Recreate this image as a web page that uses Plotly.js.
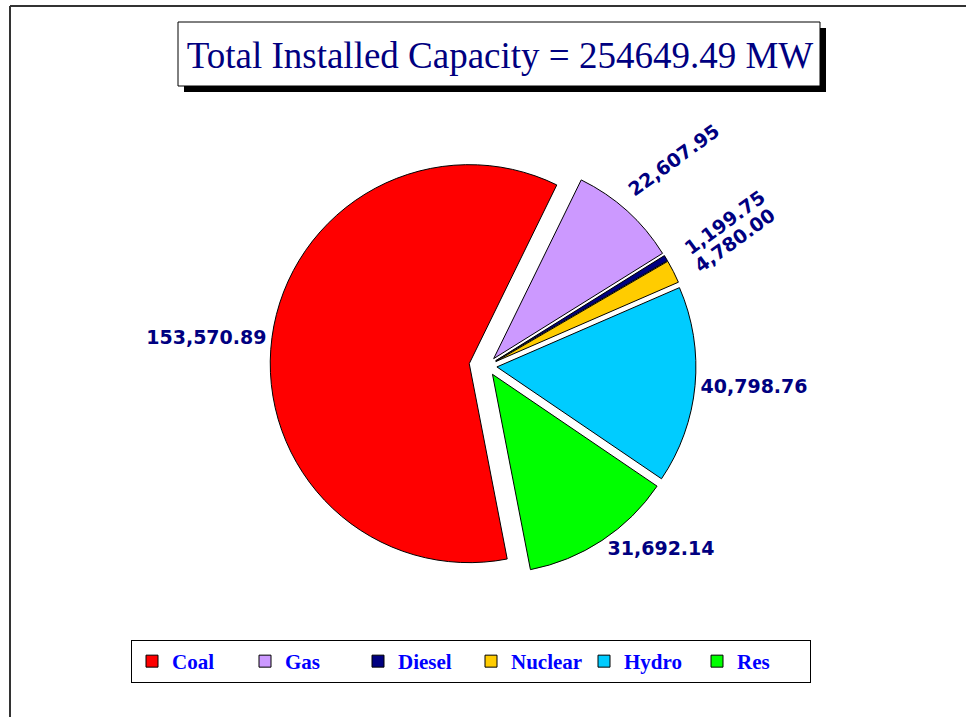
<!DOCTYPE html>
<html>
<head>
<meta charset="utf-8">
<script src="https://cdn.plot.ly/plotly-3.0.1.min.js"></script>
<style>
  html, body { margin: 0; padding: 0; background: #fff; }
  #chart { width: 966px; height: 717px; }
</style>
</head>
<body>
<div id="chart"></div>
<script>
// capacity by source, MW
var sources = ['Coal', 'Gas', 'Diesel', 'Nuclear', 'Hydro', 'Res'];
var capacity = [153570.89, 22607.95, 1199.75, 4780.00, 40798.76, 31692.14];
var colours = ['#FF0000', '#CC99FF', '#000080', '#FFCC00', '#00CCFF', '#00FF00'];
var pulls = [0.09, 0.05, 0.05, 0.05, 0.05, 0.05];
var titleText = 'Total Installed Capacity = 254649.49 MW';

var W = 966, H = 717;
var cx = 487, cy = 366, R = 199;      // pie centre and radius, px
var half = R * (1 + Math.max.apply(null, pulls));
var startAngle = 169;                 // where Coal begins, deg clockwise from 12 o'clock

function fmt(v) {
  return v.toLocaleString('en-US', {minimumFractionDigits: 2, maximumFractionDigits: 2});
}

var labelFont = {family: 'DejaVu Sans', size: 19, color: '#000080', weight: 'bold'};

// small slices get rotated labels drawn as annotations
var total = capacity.reduce(function(a, b) { return a + b; }, 0);
var textpos = [], annots = [], acc = 0;
for (var i = 0; i < capacity.length; i++) {
  var share = capacity[i] / total * 360;
  var mid = startAngle + acc + share / 2;
  acc += share;
  if (capacity[i] / total > 0.1) {
    textpos.push('outside');
  } else {
    textpos.push('none');
    var th = mid * Math.PI / 180, dist = 278;
    annots.push({
      x: (cx + dist * Math.sin(th)) / W,
      y: (H - cy + dist * Math.cos(th)) / H,
      xref: 'paper', yref: 'paper',
      xanchor: 'center', yanchor: 'middle',
      text: fmt(capacity[i]),
      showarrow: false,
      textangle: -36,
      font: labelFont
    });
  }
}

var trace = {
  type: 'pie',
  labels: sources,
  values: capacity,
  text: capacity.map(fmt),
  textinfo: 'text',
  textposition: textpos,
  outsidetextfont: labelFont,
  marker: {colors: colours, line: {color: '#000', width: 1}},
  pull: pulls,
  sort: false,
  direction: 'clockwise',
  rotation: startAngle,
  hoverinfo: 'label+value',
  domain: {
    x: [(cx - half) / W, (cx + half) / W],
    y: [(H - cy - half) / H, (H - cy + half) / H]
  }
};

var px = function(v) { return v / W; };
var py = function(v) { return 1 - v / H; };

var layout = {
  width: W,
  height: H,
  margin: {l: 0, r: 0, t: 0, b: 0},
  paper_bgcolor: '#fff',
  showlegend: true,
  title: {
    text: titleText,
    x: 500 / W, xanchor: 'center',
    y: py(55), yanchor: 'middle',
    xref: 'paper', yref: 'paper',
    font: {family: 'Liberation Serif', size: 37, color: '#000080'}
  },
  legend: {
    orientation: 'h',
    x: 471 / W, xanchor: 'center',
    y: py(640), yanchor: 'top',
    bordercolor: '#000', borderwidth: 1,
    bgcolor: '#fff',
    entrywidth: 68,
    font: {family: 'Liberation Serif', size: 21, color: '#0000FF', weight: 'bold'},
    traceorder: 'normal'
  },
  annotations: annots,
  shapes: [
    // page frame
    {type: 'line', xref: 'paper', yref: 'paper', x0: px(10), x1: px(10), y0: 0, y1: py(6),
     line: {color: '#333', width: 2}},
    {type: 'line', xref: 'paper', yref: 'paper', x0: px(10), x1: 1, y0: py(6), y1: py(6),
     line: {color: '#333', width: 2}},
    // title box with drop shadow
    {type: 'rect', xref: 'paper', yref: 'paper', layer: 'below',
     x0: px(184), x1: px(826), y0: py(92), y1: py(28),
     fillcolor: '#000', line: {width: 0}},
    {type: 'rect', xref: 'paper', yref: 'paper', layer: 'below',
     x0: px(178), x1: px(820), y0: py(86), y1: py(22),
     fillcolor: '#fff', line: {color: '#000', width: 1}}
  ]
};

Plotly.newPlot('chart', [trace], layout, {displayModeBar: false});
</script>
</body>
</html>
